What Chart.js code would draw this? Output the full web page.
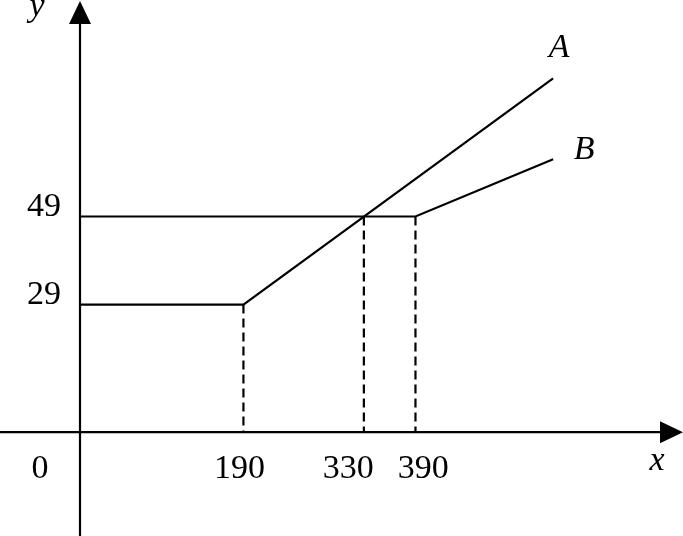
<!DOCTYPE html>
<html>
<head>
<meta charset="utf-8">
<script src="https://cdn.jsdelivr.net/npm/chart.js@4.4.1/dist/chart.umd.min.js"></script>
<style>
    html, body { margin: 0; padding: 0; background: #fff; }
    #wrap { width: 683px; height: 536px; }
</style>
</head>
<body>
<div id="wrap"><canvas id="tariff_canvas"></canvas></div>
<script>
// tick values shown on the axes
var xTicks = [190, 330, 390];
var yTicks = [29, 49];

// plan A: flat 29 up to 190, then rising
var planA_x = [0, 190, 550];
var planA_y = [29, 29, 80.4];

// plan B: flat 49 up to 390, then rising slower
var planB_x = [0, 390, 550];
var planB_y = [49, 49, 62];

// dashed guides dropped to the x axis
var guide_x = [190, 330, 390];
var guide_top = [29, 49, 49];

var serif = "'Liberation Serif', 'Times New Roman', serif";

function toPoints(xs, ys) {
    return xs.map(function (x, i) {
        return { x: x, y: ys[i] };
    });
}

var lineStyle = {
    showLine: true,
    borderColor: "#000",
    borderWidth: 2.2,
    pointRadius: 0,
    tension: 0,
    fill: false,
};

var datasets = [
    Object.assign({ label: "A", data: toPoints(planA_x, planA_y) }, lineStyle),
    Object.assign({ label: "B", data: toPoints(planB_x, planB_y) }, lineStyle),
];

guide_x.forEach(function (x, i) {
    datasets.push(Object.assign({
        label: "guide" + i,
        data: [{ x: x, y: guide_top[i] }, { x: x, y: 0 }],
        borderDash: [9, 5],
    }, lineStyle));
});

// axes with arrow heads, tick labels and the A / B names
var axesPlugin = {
    id: "axesPlugin",
    beforeDatasetsDraw: function (chart) {
        var ctx = chart.ctx;
        var area = chart.chartArea;
        var x0 = chart.scales.x.getPixelForValue(0);
        var y0 = chart.scales.y.getPixelForValue(0);

        ctx.save();
        ctx.strokeStyle = "#000";
        ctx.fillStyle = "#000";
        ctx.lineWidth = 2.2;

        ctx.beginPath();
        ctx.moveTo(area.left, y0);
        ctx.lineTo(area.right - 20, y0);
        ctx.moveTo(x0, area.bottom);
        ctx.lineTo(x0, area.top + 20);
        ctx.stroke();

        // arrow heads
        ctx.beginPath();
        ctx.moveTo(area.right, y0);
        ctx.lineTo(area.right - 23, y0 - 11);
        ctx.lineTo(area.right - 23, y0 + 11);
        ctx.closePath();
        ctx.fill();

        ctx.beginPath();
        ctx.moveTo(x0, area.top + 1);
        ctx.lineTo(x0 - 11, area.top + 24);
        ctx.lineTo(x0 + 11, area.top + 24);
        ctx.closePath();
        ctx.fill();
        ctx.restore();
    },
    afterDraw: function (chart) {
        var ctx = chart.ctx;
        var area = chart.chartArea;
        var xs = chart.scales.x;
        var ys = chart.scales.y;
        var x0 = xs.getPixelForValue(0);
        var y0 = ys.getPixelForValue(0);

        ctx.save();
        ctx.fillStyle = "#000";
        ctx.textBaseline = "alphabetic";
        ctx.font = "34px " + serif;

        // x tick labels, pushed apart when they would touch
        var gap = 24;
        var items = xTicks.map(function (v) {
            var t = String(v);
            return { text: t, cx: xs.getPixelForValue(v) - 4, w: ctx.measureText(t).width };
        });
        for (var i = 1; i < items.length; i++) {
            var need = (items[i - 1].w + items[i].w) / 2 + gap;
            var have = items[i].cx - items[i - 1].cx;
            if (have < need) {
                items[i - 1].cx -= (need - have) / 2;
                items[i].cx += (need - have) / 2;
            }
        }
        ctx.textAlign = "center";
        items.forEach(function (it) {
            ctx.fillText(it.text, it.cx, y0 + 46);
        });
        ctx.fillText("0", x0 - 40, y0 + 46);

        ctx.textAlign = "right";
        yTicks.forEach(function (v) {
            ctx.fillText(String(v), x0 - 19, ys.getPixelForValue(v) - 1);
        });

        ctx.font = "italic 34px " + serif;
        ctx.textAlign = "center";
        ctx.fillText("x", area.right - 26, y0 + 38);
        ctx.fillText("y", x0 - 43, area.top + 16);

        var nA = planA_x.length - 1;
        var nB = planB_x.length - 1;
        ctx.fillText("A", xs.getPixelForValue(planA_x[nA]) + 6, ys.getPixelForValue(planA_y[nA]) - 21);
        ctx.fillText("B", xs.getPixelForValue(planB_x[nB]) + 31, ys.getPixelForValue(planB_y[nB]));
        ctx.restore();
    },
};

var tariffChart = new Chart(document.getElementById("tariff_canvas"), {
    type: "scatter",
    data: { datasets: datasets },
    options: {
        responsive: true,
        maintainAspectRatio: false,
        animation: false,
        layout: { padding: 0 },
        plugins: {
            legend: { display: false },
            tooltip: { enabled: false },
        },
        scales: {
            x: { type: "linear", display: false, min: -93, max: 701 },
            y: { type: "linear", display: false, min: -23.6, max: 98.2 },
        },
    },
    plugins: [axesPlugin],
});
</script>
</body>
</html>
